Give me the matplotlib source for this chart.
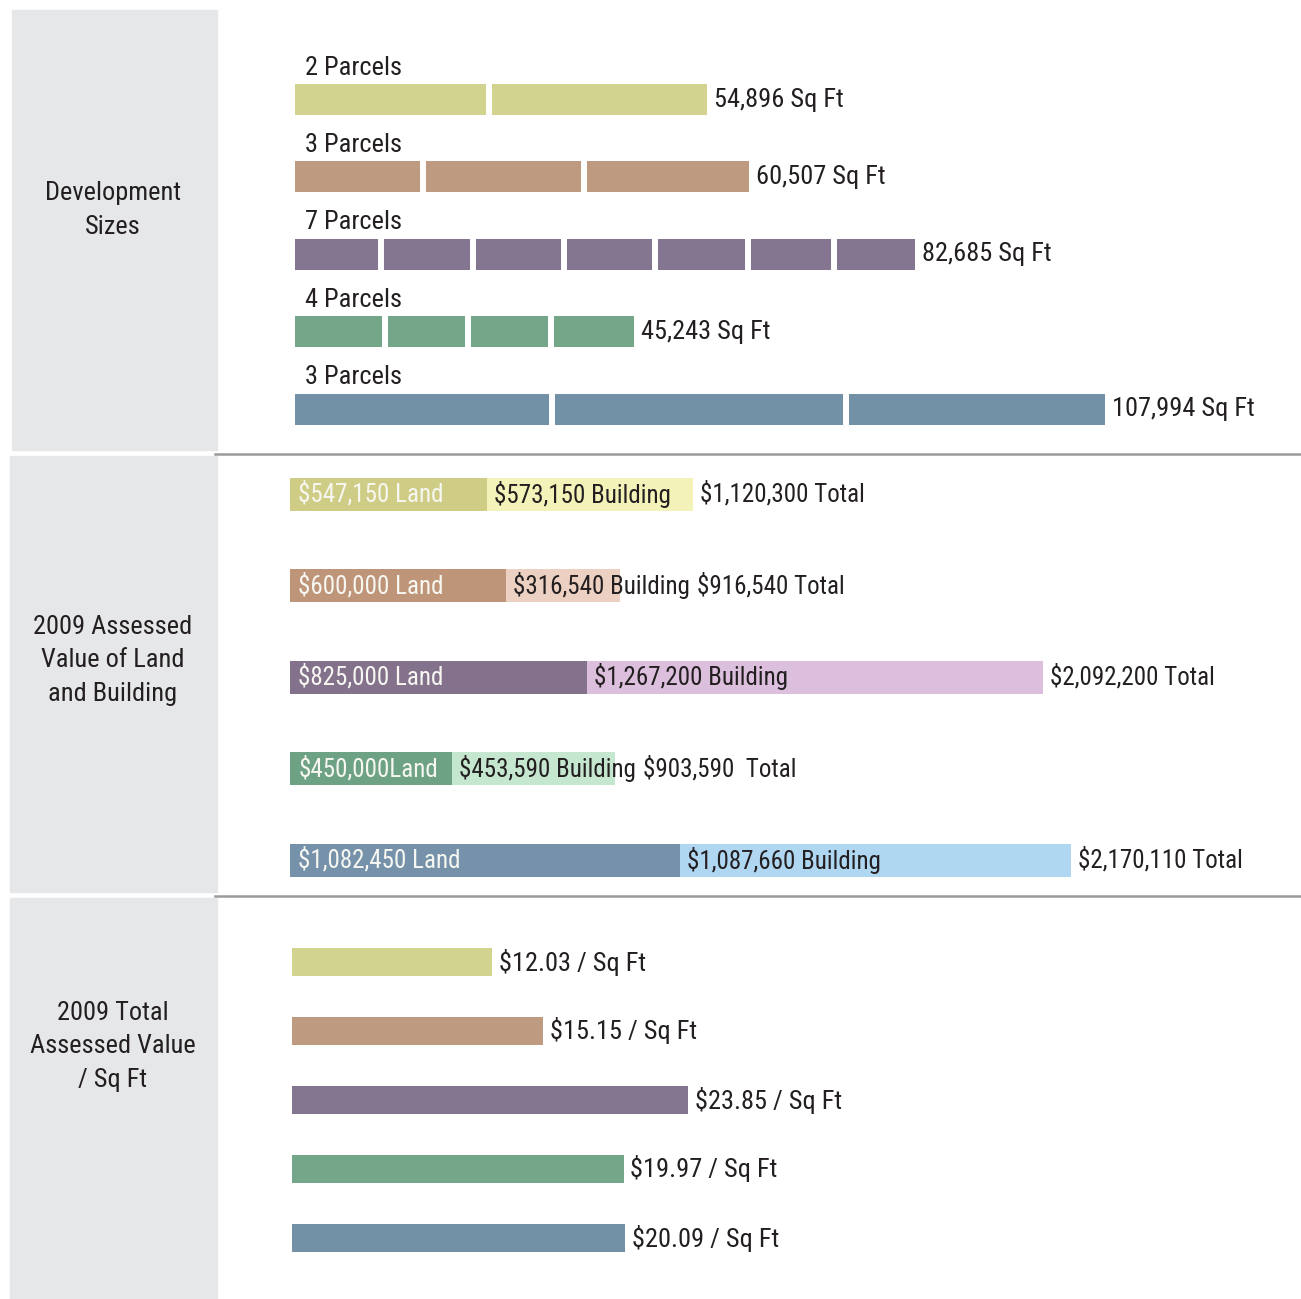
import matplotlib
matplotlib.use('Agg')
import matplotlib.pyplot as plt
from matplotlib.patches import Rectangle
from matplotlib.lines import Line2D
import numpy as np

plt.rcParams['font.family'] = ['Roboto Condensed', 'Archivo Narrow', 'PT Sans Narrow',
                               'Liberation Sans Narrow', 'DejaVu Sans']

# development sizes (sq ft), split by parcel
parcel_labels = ['2 Parcels', '3 Parcels', '7 Parcels', '4 Parcels', '3 Parcels']
parcel_sizes = [
    [25900, 28996],
    [17030, 21480, 21997],
    [11513, 12167, 12167, 12167, 12429, 11382, 10860],
    [12065, 11016, 11016, 11146],
    [34226, 39270, 34498],
]
total_sqft = [54896, 60507, 82685, 45243, 107994]

# 2009 assessed values ($)
land_value = [547150, 600000, 825000, 450000, 1082450]
building_value = [573150, 316540, 1267200, 453590, 1087660]
total_value = [1120300, 916540, 2092200, 903590, 2170110]
land_text = ['$547,150 Land', '$600,000 Land', '$825,000 Land', '$450,000Land', '$1,082,450 Land']
building_text = ['$573,150 Building', '$316,540 Building', '$1,267,200 Building',
                 '$453,590 Building', '$1,087,660 Building']
total_text = ['$1,120,300 Total', '$916,540 Total', '$2,092,200 Total', '$903,590  Total', '$2,170,110 Total']

# 2009 total assessed value per sq ft
value_per_sqft = [12.03, 15.15, 23.85, 19.97, 20.09]

dark = ['#d2d38f', '#bd9a80', '#847590', '#74a68a', '#7290a6']
land_colors = ['#cfcc86', '#bf9579', '#84718c', '#6ea285', '#7592aa']
light = ['#f3f2b8', '#ecd1c2', '#dcbfdd', '#c5e6cf', '#b0d7f1']
box_grey = '#e6e7e9'
txt = '#231f20'

W, H = 1301, 1299
fig = plt.figure(figsize=(W / 100, H / 100), dpi=100)


def fbox(x0, y0, x1, y1):
    return [x0 / W, 1 - y1 / H, (x1 - x0) / W, (y1 - y0) / H]


# grey label boxes on the left
for (x0, y0, x1, y1), label, cy in [((12, 10, 217, 450), 'Development\nSizes', 210),
                                    ((10, 456, 217, 892), '2009 Assessed\nValue of Land\nand Building', 660),
                                    ((10, 898, 217, 1299), '2009 Total\nAssessed Value\n/ Sq Ft', 1046)]:
    fig.add_artist(Rectangle((x0 / W, 1 - y1 / H), (x1 - x0) / W, (y1 - y0) / H,
                             transform=fig.transFigure, color=box_grey, zorder=0))
    fig.text(113 / W, 1 - cy / H, label, ha='center', va='center', fontsize=19,
             linespacing=1.5, color=txt)

for y in [454, 896]:
    fig.add_artist(Line2D([215 / W, 1], [1 - y / H] * 2, color='#9a9a9a', lw=1.8))

# panel 1: development sizes
ax1 = fig.add_axes(fbox(295, 10, 1301, 453))
s1, c1 = 77.4, 99.5
ax1.set_ylim((453 - c1) / s1, (10 - c1) / s1)
ax1.set_xlim(0, 1006 / 0.0075)
ax1.axis('off')
for i in range(len(total_sqft)):
    h = 31 / s1
    ax1.barh(i, total_sqft[i], height=h, color=dark[i])
    ax1.vlines(np.cumsum(parcel_sizes[i])[:-1], i - h / 2 - 0.02, i + h / 2 + 0.02,
               color='white', lw=4.3)
    ax1.annotate(parcel_labels[i], xy=(0, i), xytext=(7, 23), textcoords='offset points',
                 ha='left', va='center', fontsize=19, color=txt)
    ax1.annotate(f'{total_sqft[i]:,} Sq Ft', xy=(total_sqft[i], i), xytext=(5, 0),
                 textcoords='offset points', ha='left', va='center', fontsize=19, color=txt)

# panel 2: land + building values
ax2 = fig.add_axes(fbox(290, 455, 1301, 895))
s2, c2 = 91.5, 494
ax2.set_ylim((895 - c2) / s2, (455 - c2) / s2)
ax2.set_xlim(0, 1011 / 0.00036)
ax2.axis('off')
btexts = []
for i in range(len(land_value)):
    h = 33 / s2
    ax2.barh(i, land_value[i], height=h, color=land_colors[i])
    ax2.barh(i, building_value[i], left=land_value[i], height=h, color=light[i])
    ax2.annotate(land_text[i], xy=(0, i), xytext=(6, 0), textcoords='offset points',
                 ha='left', va='center', fontsize=18, color='#f7f7f2')
    btexts.append(ax2.annotate(building_text[i], xy=(land_value[i], i), xytext=(5, 0),
                               textcoords='offset points', ha='left', va='center',
                               fontsize=18, color=txt))

# total label goes after the bar, or after the building label if that runs past the bar
fig.canvas.draw()
r = fig.canvas.get_renderer()
inv = ax2.transData.inverted()
for i, t in enumerate(btexts):
    bb = t.get_window_extent(r)
    xr = inv.transform((bb.x1, 0))[0]
    end = max(total_value[i], xr)
    ax2.annotate(total_text[i], xy=(end, i), xytext=(5, 0), textcoords='offset points',
                 ha='left', va='center', fontsize=18, color=txt)

# panel 3: total value per sq ft
ax3 = fig.add_axes(fbox(292, 897, 1301, 1299))
s3, c3 = 69.0, 962
ax3.set_ylim((1299 - c3) / s3, (897 - c3) / s3)
ax3.set_xlim(0, 1009 / 16.6)
ax3.axis('off')
for i, v in enumerate(value_per_sqft):
    ax3.barh(i, v, height=28 / s3, color=dark[i])
    ax3.annotate(f'${v:.2f} / Sq Ft', xy=(v, i), xytext=(5, 0), textcoords='offset points',
                 ha='left', va='center', fontsize=19, color=txt)

fig.savefig('out.png', dpi=100)
